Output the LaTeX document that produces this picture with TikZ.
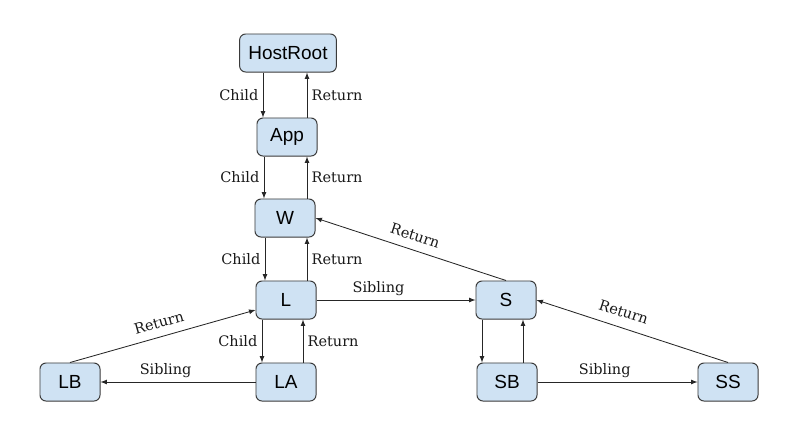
\documentclass[tikz,border=0pt]{standalone}
\usepackage{fontspec}
\setmainfont{DejaVu Serif}
\newfontfamily\boxfont{Liberation Sans}
\usetikzlibrary{calc}
\definecolor{boxfill}{HTML}{CFE2F3}
\definecolor{boxline}{HTML}{3A3A3A}

\begin{document}
\begin{tikzpicture}[x=0.025cm,y=-0.025cm,
    fiber/.style={draw=boxline,fill=boxfill,line width=0.7pt,rounded corners=0.15cm,
        minimum width=1.5cm,minimum height=0.95cm,inner xsep=0.22cm,
        font=\boxfont\fontsize{13.5}{15}\selectfont},
    link/.style={line width=0.6pt,draw=black!85,-latex},
    tag/.style={font=\fontsize{10.3}{12}\selectfont,text=black!90,inner sep=3pt}]
            \path[use as bounding box] (0,0) rectangle (792,435);

            \foreach \n/\p in {HostRoot/{288,53},App/{287,137},W/{285,218},L/{286,300},
                               S/{506,300},LB/{70,382},LA/{286,382},SB/{507,382},SS/{728,382}} {
                \node[fiber] (\n) at (\p) {\n};
            }

            % child / return pairs
            \foreach \up/\dn/\c/\r in {HostRoot/App/-0.6/0.5,App/W/-0.525/0.55,W/L/-0.525/0.525,L/LA/-0.6/0.425} {
                \draw[link] ([xshift=\c cm]\dn.north |- \up.south) -- ([xshift=\c cm]\dn.north)
                    node[midway,left,tag] {Child};
                \draw[link] ([xshift=\r cm]\dn.north) -- ([xshift=\r cm]\dn.north |- \up.south)
                    node[midway,right,tag] {Return};
            }
            \draw[link] ([xshift=-0.625cm]SB.north |- S.south) -- ([xshift=-0.625cm]SB.north);
            \draw[link] ([xshift=0.4cm]SB.north) -- ([xshift=0.4cm]SB.north |- S.south);

            % siblings
            \draw[link] (L.east) -- (S.west) node[pos=0.39,above,tag] {Sibling};
            \draw[link] (LA.west) -- (LB.east) node[pos=0.58,above,tag] {Sibling};
            \draw[link] (SB.east) -- (SS.west) node[pos=0.42,above,tag] {Sibling};

            % returns to parent
            \draw[link] (S.north) -- (W.east) node[midway,above=3pt,sloped,tag] {Return};
            \draw[link] (LB.north) -- ([yshift=-0.25cm]L.west) node[midway,above=3pt,sloped,tag] {Return};
            \draw[link] (SS.north) -- (S.east) node[pos=0.57,above=4pt,sloped,tag] {Return};
        \end{tikzpicture}
\end{document}
